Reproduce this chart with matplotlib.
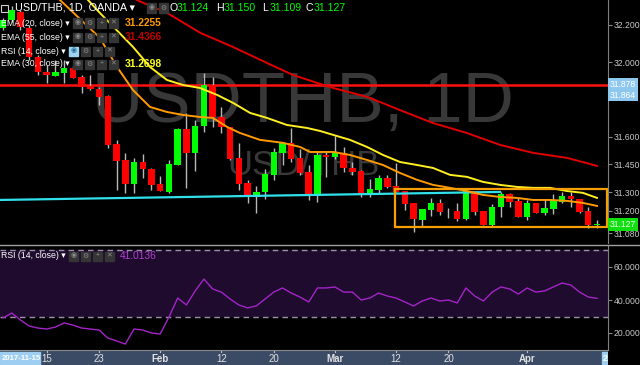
import matplotlib
matplotlib.use("Agg")
import matplotlib.pyplot as plt
from matplotlib.patches import Rectangle
from matplotlib.lines import Line2D
import matplotlib.transforms as mtransforms

plt.rcParams['font.family'] = ['Liberation Sans', 'DejaVu Sans']

# daily candles USD/THB (OANDA), 2018-01-08 .. 2018-04-12
opens = [32.184, 32.227, 32.270, 32.184, 32.028, 31.947, 31.926, 31.942, 31.969, 31.920,
         31.872, 31.856, 31.818, 31.560, 31.474, 31.345, 31.463, 31.426, 31.345, 31.302,
         31.447, 31.641, 31.512, 31.657, 31.877, 31.705, 31.652, 31.485, 31.351, 31.275,
         31.302, 31.394, 31.512, 31.566, 31.485, 31.410, 31.280, 31.501, 31.490, 31.512,
         31.431, 31.415, 31.286, 31.313, 31.377, 31.334, 31.307, 31.243, 31.152, 31.205,
         31.243, 31.198, 31.200, 31.157, 31.307, 31.200, 31.125, 31.221, 31.291, 31.254,
         31.168, 31.243, 31.189, 31.211, 31.248, 31.280, 31.264, 31.200, 31.124]
highs = [32.238, 32.302, 32.281, 32.200, 32.039, 31.985, 32.012, 32.012, 31.980, 31.931,
         31.931, 31.867, 31.823, 31.582, 31.512, 31.485, 31.506, 31.431, 31.388, 31.474,
         31.646, 31.727, 31.689, 31.942, 31.920, 31.759, 31.652, 31.566, 31.367, 31.334,
         31.426, 31.539, 31.566, 31.646, 31.533, 31.447, 31.517, 31.517, 31.603, 31.544,
         31.463, 31.420, 31.372, 31.394, 31.394, 31.458, 31.307, 31.243, 31.211, 31.270,
         31.264, 31.216, 31.243, 31.318, 31.307, 31.200, 31.237, 31.302, 31.297, 31.270,
         31.259, 31.243, 31.264, 31.291, 31.302, 31.302, 31.264, 31.221, 31.150]
lows = [32.173, 32.216, 32.173, 32.012, 31.931, 31.888, 31.926, 31.888, 31.915, 31.834,
        31.851, 31.770, 31.539, 31.313, 31.297, 31.297, 31.377, 31.313, 31.307, 31.297,
        31.447, 31.324, 31.415, 31.625, 31.652, 31.619, 31.474, 31.313, 31.243, 31.189,
        31.264, 31.367, 31.447, 31.463, 31.394, 31.259, 31.248, 31.383, 31.480, 31.410,
        31.394, 31.275, 31.275, 31.297, 31.324, 31.302, 31.205, 31.087, 31.119, 31.173,
        31.178, 31.162, 31.146, 31.152, 31.178, 31.125, 31.114, 31.168, 31.221, 31.168,
        31.152, 31.189, 31.178, 31.184, 31.243, 31.221, 31.189, 31.108, 31.109]
closes = [32.227, 32.281, 32.189, 32.028, 31.947, 31.931, 31.947, 31.969, 31.915, 31.867,
          31.856, 31.813, 31.555, 31.469, 31.345, 31.463, 31.426, 31.340, 31.307, 31.453,
          31.641, 31.512, 31.657, 31.877, 31.705, 31.652, 31.480, 31.345, 31.275, 31.302,
          31.399, 31.517, 31.566, 31.480, 31.404, 31.280, 31.501, 31.490, 31.512, 31.431,
          31.410, 31.286, 31.318, 31.377, 31.329, 31.302, 31.237, 31.157, 31.211, 31.243,
          31.194, 31.202, 31.157, 31.307, 31.194, 31.125, 31.221, 31.291, 31.248, 31.168,
          31.243, 31.189, 31.216, 31.254, 31.280, 31.264, 31.194, 31.125, 31.127]

rsi = [29.1, 32.1, 27.9, 24.2, 23.0, 22.4, 23.6, 26.1, 24.8, 23.0,
       22.4, 21.8, 17.0, 15.2, 13.3, 22.4, 21.8, 20.0, 19.4, 29.7,
       41.2, 37.0, 45.5, 52.7, 46.7, 44.8, 40.6, 37.0, 35.2, 36.4,
       40.6, 44.8, 47.3, 44.2, 41.8, 38.8, 47.3, 47.3, 47.9, 44.8,
       44.8, 40.0, 41.2, 44.2, 42.4, 41.2, 38.8, 36.4, 39.4, 41.2,
       39.4, 40.0, 38.2, 47.3, 42.4, 39.4, 44.8, 47.9, 46.7, 43.6,
       47.3, 44.8, 45.5, 47.9, 50.3, 49.1, 44.8, 41.8, 41.0]

# EMA curves (candle position, price)
ema20_pos = [6.53, 11.10, 13.05, 14.88, 16.83, 18.77, 20.61, 22.55, 24.04, 25.64, 27.13,
             29.42, 32.05, 34.0, 35.15, 37.78, 39.72, 41.67, 43.50, 45.45, 47.40, 49.23,
             51.17, 53.12, 54.95, 56.90, 58.84, 60.68, 62.62, 64.57, 66.40, 68.0]
ema20_val = [32.334, 32.130, 31.974, 31.850, 31.759, 31.732, 31.716, 31.705, 31.700, 31.652,
             31.619, 31.582, 31.566, 31.544, 31.517, 31.517, 31.501, 31.474, 31.447, 31.404,
             31.367, 31.340, 31.324, 31.307, 31.286, 31.275, 31.270, 31.259, 31.259, 31.254,
             31.243, 31.227]
ema30_pos = [9.73, 11.10, 14.88, 16.83, 18.77, 20.61, 22.55, 24.50, 26.33, 28.28, 30.22,
             32.51, 34.80, 36.29, 37.78, 39.72, 41.67, 43.50, 45.45, 47.40, 49.23, 51.17,
             53.12, 54.95, 56.90, 58.84, 60.68, 62.62, 64.57, 66.40, 68.0]
ema30_val = [32.334, 32.264, 32.082, 31.974, 31.904, 31.877, 31.861, 31.824, 31.781, 31.727,
             31.700, 31.662, 31.646, 31.630, 31.609, 31.582, 31.544, 31.501, 31.463, 31.447,
             31.431, 31.394, 31.383, 31.356, 31.340, 31.329, 31.324, 31.324, 31.307, 31.297,
             31.270]
ema55_pos = [15.3, 18.8, 22.6, 26.3, 30.2, 33.2, 36.3, 37.8, 41.7, 45.4, 49.2, 53.1,
             56.9, 60.7, 64.6, 68.0]
ema55_val = [32.334, 32.264, 32.157, 32.082, 31.996, 31.931, 31.883, 31.861, 31.813, 31.743,
             31.673, 31.619, 31.555, 31.512, 31.485, 31.442]

# drawings
hline_price = 31.877
trend_pos = [-0.34, 56.9]
trend_val = [31.259, 31.302]
box_pos = (44.9, 69.1)
box_val = (31.114, 31.318)

price_ticks = [32.2, 32.0, 31.6, 31.45, 31.3, 31.2, 31.08]
rsi_ticks = [60, 40, 20]
date_idx = [5, 11, 18, 25, 31, 38, 45, 51, 60]
date_lbl = ["15", "23", "Feb", "12", "20", "Mar", "12", "20", "Apr"]

W, H = 640, 365
fx = lambda px: px / W
fy = lambda py: 1 - py / H
XL = (-0.343, 69.26)

fig = plt.figure(figsize=(6.4, 3.65), dpi=100)
fig.patch.set_facecolor("black")

# ---- main price panel
ax = fig.add_axes([0, fy(243), fx(608), 243 / H])
ax.set_facecolor("black")
ax.set_xlim(*XL)
ax.set_ylim(32.334 - 243 / 186, 32.334)

ax.text(0.499, 0.57, "USDTHB, 1D", transform=ax.transAxes, ha="center", va="center",
        fontsize=51, color="#383838", zorder=0)
ax.text(0.499, 0.32, "USD/THB", transform=ax.transAxes, ha="center", va="center",
        fontsize=25, color="#383838", zorder=0)

ax.axhline(hline_price, color="#ff1010", lw=1.8, zorder=1)

n = len(opens)
idx = list(range(n))
ax.vlines(idx, lows, highs, color="#b8b8b8", lw=1, zorder=2)
bottoms = [min(o, c) for o, c in zip(opens, closes)]
heights = [max(abs(c - o), 0.004) for o, c in zip(opens, closes)]
cols = ["#00ff00" if c >= o else "#ff0000" for o, c in zip(opens, closes)]
ax.bar(idx, heights, bottom=bottoms, width=0.74, color=cols, zorder=3)

ax.plot(trend_pos, trend_val, color="#30e0ea", lw=1.6, zorder=4)
ax.plot(ema55_pos, ema55_val, color="#e00000", lw=1.4, zorder=4)
ax.plot(ema30_pos, ema30_val, color="#ffee20", lw=1.4, zorder=4)
ax.plot(ema20_pos, ema20_val, color="#ff9a00", lw=1.4, zorder=4)
ax.add_patch(Rectangle((box_pos[0], box_val[0]), box_pos[1] - box_pos[0],
                       box_val[1] - box_val[0], fill=False, ec="#f5a000", lw=1.6, zorder=5))

ax.yaxis.tick_right()
ax.set_yticks(price_ticks)
ax.set_yticklabels([f"{v:.3f}" for v in price_ticks])
ax.tick_params(axis="y", colors="#888888", labelcolor="#c8c8c8", labelsize=6.2, length=3, pad=1)
ax.set_xticks([])
for s in ["top", "left", "bottom"]:
    ax.spines[s].set_visible(False)
ax.spines["right"].set_color("#808080")

tr = mtransforms.blended_transform_factory(ax.transAxes, ax.transData)
ax.text(1.003, 31.878, "31.878", transform=tr, ha="left", va="center", fontsize=6.2,
        color="white", bbox=dict(boxstyle="square,pad=0.22", fc="#8ec8ee", ec="none"))
ax.annotate("31.864", xy=(1.003, 31.864), xycoords=tr, xytext=(0, -5.5),
            textcoords="offset points", ha="left", va="center", fontsize=6.2, color="white",
            bbox=dict(boxstyle="square,pad=0.22", fc="#8ec8ee", ec="none"))
ax.text(1.003, 31.127, "31.127", transform=tr, ha="left", va="center", fontsize=6.2,
        color="#e8ffe8", bbox=dict(boxstyle="square,pad=0.22", fc="#10e010", ec="none"))

# ---- RSI panel
ax2 = fig.add_axes([0, fy(350), fx(608), (350 - 246) / H])
ax2.set_facecolor("black")
ax2.set_xlim(*XL)
ax2.set_ylim(40 - 50 / 1.65, 40 + 54 / 1.65)
ax2.axhspan(30, 70, color="#1e0b2d", zorder=0)
ax2.axhline(70, color="#9c90a8", lw=1, ls=(0, (4, 3)), zorder=1)
ax2.axhline(30, color="#9c90a8", lw=1, ls=(0, (4, 3)), zorder=1)
ax2.plot(idx, rsi, color="#a424c8", lw=1, zorder=2)
ax2.yaxis.tick_right()
ax2.set_yticks(rsi_ticks)
ax2.set_yticklabels([f"{v:.4f}" for v in rsi_ticks])
ax2.tick_params(axis="y", colors="#888888", labelcolor="#c8c8c8", labelsize=6.2, length=3, pad=1)
ax2.set_xticks([])
for s in ["top", "left", "bottom"]:
    ax2.spines[s].set_visible(False)
ax2.spines["right"].set_color("#808080")

# ---- date strip
ax3 = fig.add_axes([0, 0, fx(608), 15 / H])
ax3.set_xlim(*XL)
ax3.set_ylim(0, 1)
ax3.axis("off")
ax3.add_patch(Rectangle((0, 0), 1, 1, transform=ax3.transAxes, color="#3b4b66", zorder=0))
for i, lb in zip(date_idx, date_lbl):
    ax3.text(i, 0.42, lb, ha="center", va="center", fontsize=7, color="#e0e0e0",
             fontweight="bold" if lb.isalpha() else "normal")
    ax3.plot([i, i], [0.86, 1.0], color="#c0c0c0", lw=0.8)
ax3.add_patch(Rectangle((XL[0], 0.05), 4.6, 0.85, color="#9ecff2", zorder=3))
ax3.text(XL[0] + 0.15, 0.45, "2017-11-15", ha="left", va="center", fontsize=5.6,
         color="white", fontweight="bold", zorder=4)
ax3.add_patch(Rectangle((68.6, 0.05), 1.0, 0.85, color="#9ecff2", zorder=3))
ax3.text(68.65, 0.45, "2", ha="left", va="center", fontsize=6.5, color="white",
         fontweight="bold", zorder=4)

fig.add_artist(Line2D([0, 1], [fy(244.5)] * 2, color="#a0a0a0", lw=1))
fig.add_artist(Line2D([0, fx(608)], [fy(350)] * 2, color="#8a8a8a", lw=0.8))

# ---- legend rows
GLYPHS = ["◉", "⚙", "+", "✕"]


def icons(x0, y, k, blue=False):
    for j in range(k):
        fc = "#9fd4f0" if (blue and j == 0) else "#353535"
        fig.add_artist(Rectangle((fx(x0 + j * 12), fy(y + 4.5)), fx(9), 9 / H,
                                 transform=fig.transFigure, color=fc))
        fig.text(fx(x0 + j * 12 + 4.5), fy(y), GLYPHS[j], ha="center", va="center",
                 fontsize=5, color="#1e6f9a" if (blue and j == 0) else "#8a8a8a")


fig.add_artist(Rectangle((fx(1), fy(12)), fx(7), 7 / H, transform=fig.transFigure,
                         fill=False, ec="#d0d0d0", lw=0.8))
fig.text(fx(15), fy(8), "USD/THB, 1D, OANDA ▾", ha="left", va="center", fontsize=7.8,
         color="white")
icons(147, 8, 2)
for lx, letter, val in [(169, "O", "31.124"), (216, "H", "31.150"),
                        (262, "L", "31.109"), (306, "C", "31.127")]:
    fig.text(fx(lx), fy(8), letter, ha="left", va="center", fontsize=7.6, color="white")
    fig.text(fx(lx + 8), fy(8), val, ha="left", va="center", fontsize=7.6,
             color="#00ff00")

rows = [(23, "EMA (20, close) ▾", "31.2255", "#ff9a00", False),
        (37, "EMA (55, close) ▾", "31.4366", "#c00000", False),
        (51, "RSI (14, close) ▾", None, None, True),
        (64, "EMA (30, close) ▾", "31.2698", "#ffff20", False)]
for y, lab, val, c, blue in rows:
    fig.text(fx(1), fy(y), lab, ha="left", va="center", fontsize=6.3, color="white")
    icons(69 if blue else 73, y, 4, blue)
    if val:
        fig.text(fx(125), fy(y), val, ha="left", va="center", fontsize=7.4,
                 color=c, fontweight="bold")

fig.text(fx(1), fy(256), "RSI (14, close) ▾", ha="left", va="center", fontsize=6.3,
         color="white")
icons(69, 256, 4)
fig.text(fx(120), fy(256), "41.0136", ha="left", va="center", fontsize=7.4,
         color="#b040d0")

fig.savefig("out.png", dpi=100, facecolor="black")
